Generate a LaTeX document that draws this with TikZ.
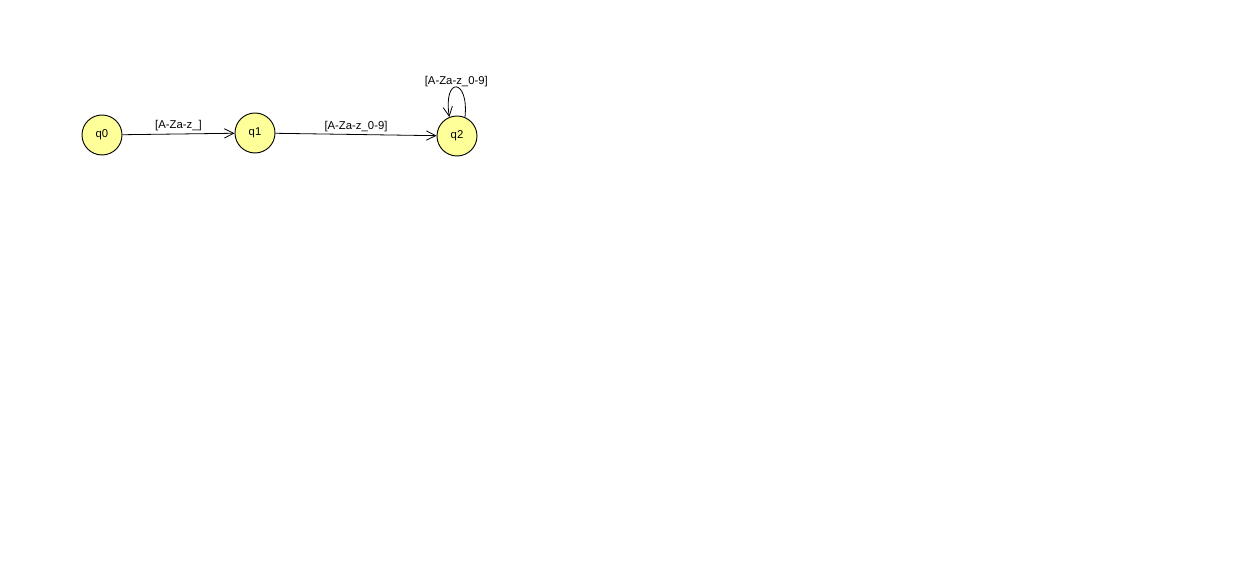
\documentclass[tikz,border=0pt]{standalone}
\usepackage{fontspec}
\setmainfont{Liberation Sans}
\usetikzlibrary{arrows.meta}
\definecolor{statefill}{RGB}{255,255,153}
\begin{document}
\begin{tikzpicture}[x=0.75pt,y=0.75pt,
  state/.style={circle,draw=black,line width=0.7pt,fill=statefill,minimum size=30pt,inner sep=0pt,font=\fontsize{8.5}{10}\selectfont},
  trans/.style={draw=black,line width=0.6pt,-{Straight Barb[length=7pt,width=7pt,line width=0.6pt]}},
  lbl/.style={font=\fontsize{8.5}{10}\selectfont,inner sep=1pt}]
\useasboundingbox[fill=white] (0,0) rectangle (1253,566);
\node[state] (q0) at (102,431) {q0};
\node[state] (q1) at (255,433) {q1};
\node[state] (q2) at (457,430) {q2};
\draw[trans] (q0) -- node[lbl,above=1pt] {[A-Za-z\_]} (q1);
\draw[trans] (q1) -- node[lbl,above=1pt] {[A-Za-z\_0-9]} (q2);
\draw[trans] (q2.67) .. controls (469,488) and (443,490) .. node[lbl,above=-1pt,pos=0.5] {[A-Za-z\_0-9]} (q2.112);
\end{tikzpicture}
\end{document}
